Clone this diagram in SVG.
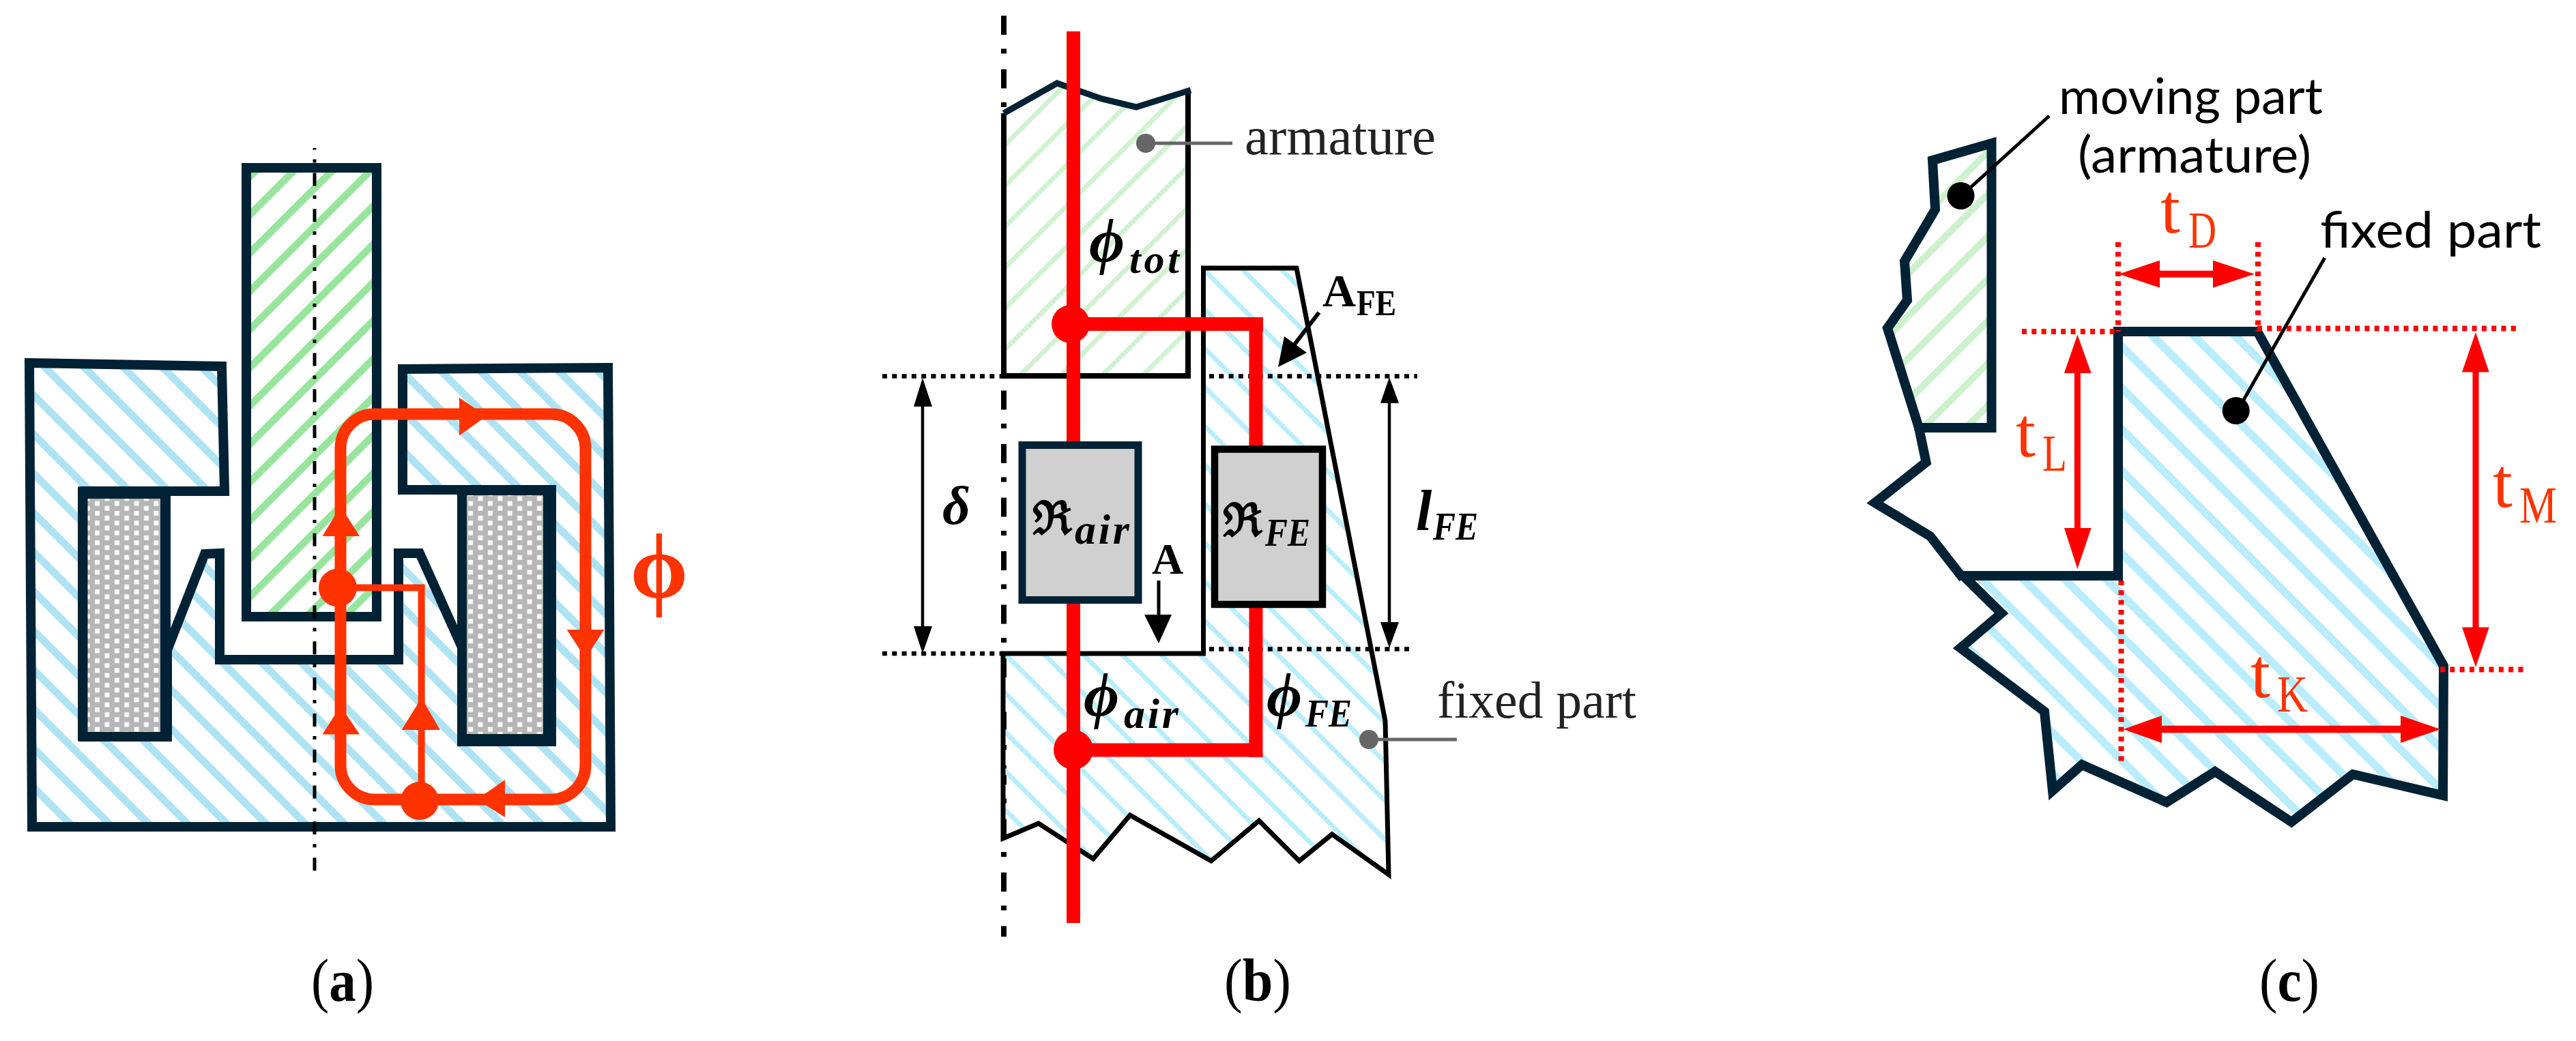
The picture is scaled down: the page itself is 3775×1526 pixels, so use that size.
<svg xmlns="http://www.w3.org/2000/svg" width="3775" height="1526" viewBox="0 0 3775 1526">
<style>
.core{stroke:#012235;stroke-linejoin:miter;fill:none}
.ink{stroke:#000;fill:none}
.fluxA{stroke:#ff3300;fill:none}
.fluxB{stroke:#ff0000;fill:none}
.dotK{stroke:#000;stroke-width:6.5;stroke-dasharray:7 7.3;fill:none}
.dotR{stroke:#ff0000;stroke-width:8;stroke-dasharray:7 7.3;fill:none}
.cap{font-family:"Liberation Serif",serif;font-size:88px;text-anchor:middle;fill:#000}
.cap .b{font-weight:bold}
.m{font-family:"Liberation Serif","DejaVu Serif",serif;font-weight:bold;font-style:italic;fill:#000}
.lab{font-family:"Liberation Serif",serif;fill:#222}
.sans{font-family:Lato,"Liberation Sans",sans-serif;fill:#000}
.t{font-family:"Liberation Serif",serif;fill:#ff3300}
</style>
<defs>
<pattern id="hA" patternUnits="userSpaceOnUse" width="40.66" height="40.66" patternTransform="translate(37.2 0) rotate(-45)"><rect width="11" height="40.66" fill="#aee3f4"/></pattern>
<pattern id="gA" patternUnits="userSpaceOnUse" width="39.6" height="39.6" patternTransform="translate(1.5 0) rotate(45)"><rect width="10.6" height="39.6" fill="#97e59d"/></pattern>
<pattern id="hB" patternUnits="userSpaceOnUse" width="40.3" height="40.3" patternTransform="translate(-4 0) rotate(-45)"><rect width="7" height="40.3" fill="#b8eefc"/></pattern>
<pattern id="gB" patternUnits="userSpaceOnUse" width="42.43" height="42.43" patternTransform="rotate(45)"><rect width="7" height="42.43" fill="#d0f2d0"/></pattern>
<pattern id="hC" patternUnits="userSpaceOnUse" width="42.9" height="42.9" patternTransform="translate(45 0) rotate(-45)"><rect width="11.8" height="42.9" fill="#b9edfd"/></pattern>
<pattern id="gC" patternUnits="userSpaceOnUse" width="43.84" height="43.84" patternTransform="translate(28.6 0) rotate(45)"><rect width="10" height="43.84" fill="#cdf0cd"/></pattern>
<pattern id="coil" patternUnits="userSpaceOnUse" width="28.8" height="14.4" x="139" y="734.500"><rect width="28.8" height="14.4" fill="#b6b6b6"/><rect width="7" height="7" fill="#fafafa"/><rect x="14.4" y="7.2" width="7" height="7" fill="#fafafa"/></pattern>
</defs>
<rect width="3775" height="1526" fill="#fff"/>

<g id="panel-a">
<g id="a-core"><polygon class="core" stroke-width="14" style="fill:url(#hA)" points="43,532 325,537 329,720 122,720 122,1080 245,1080 245,953 300,812 322,811 322,967 584,967 584,811 615,811 677,949 677,1085 805,1085 805,718 590,718 590,541 891,539 895,1212 47,1212"/></g>
<g id="a-armature"><rect class="core" style="fill:url(#gA)" stroke-width="14" x="361" y="246" width="191" height="658"/></g>
<g id="a-coil-left"><rect x="114" y="714" width="136" height="372" fill="#012235"/><rect x="128.500" y="731" width="106.500" height="342" fill="url(#coil)"/></g>
<g id="a-coil-right"><rect x="670" y="711" width="145" height="383" fill="#012235"/><rect x="684" y="726" width="112" height="350" fill="url(#coil)"/></g>
<line id="a-axis" x1="461" y1="217" x2="461" y2="1277" stroke="#000" stroke-width="5" stroke-dasharray="19 14 5 14.83" stroke-dashoffset="16.4"/>
<g id="a-connectors">
<rect class="fluxA" stroke-width="17" x="499" y="607" width="359" height="565" rx="50"/>
<path class="fluxA" stroke-width="10" d="M495,861.500H617.600V1172"/>
<g fill="#ff3300">
<circle cx="495" cy="861.500" r="28"/><circle cx="615" cy="1174" r="28"/>
<polygon points="499,742 472.500,786 527,786"/>
<polygon points="499,1035 472.500,1076.500 527,1076.500"/>
<polygon points="617.600,1023 588.600,1070 645,1070"/>
<polygon points="713,610 673,583 673,638.600"/>
<polygon points="858,965 830.700,923 885.400,923"/>
<polygon points="699,1172 740,1143 740,1198"/>
</g>
</g>
<text id="a-phi" x="966" y="876" font-family="Liberation Serif,DejaVu Serif,serif" font-weight="bold" font-size="136" text-anchor="middle" fill="#ff3300">ϕ</text>
<text class="cap" x="502" y="1467" textLength="92" lengthAdjust="spacingAndGlyphs">(<tspan class="b">a</tspan>)</text>
</g>

<g id="panel-b">
<line id="b-axis" x1="1471" y1="23" x2="1471" y2="1373" stroke="#000" stroke-width="8" stroke-dasharray="28 20.5 7 23"/>
<g id="b-armature">
<polygon points="1471,166 1549,122 1615,145 1665,157 1741,132 1741,551 1471,551" fill="url(#gB)"/>
<path class="ink" stroke-width="8" d="M1471,166V551H1741V132"/>
<polyline class="core" stroke-width="9" points="1471,166 1549,122 1615,145 1665,157 1745,132"/>
</g>
<g id="b-fixed">
<polygon class="ink" stroke-width="7" style="fill:url(#hB)" points="1763.500,393 1900,393 2030,1057 2035,1282 1952,1223 1904,1262 1845,1203 1775,1262 1656,1195 1602,1259 1522,1207 1470,1229 1470,958 1763.500,958"/>
</g>
<g id="b-dims">
<line class="dotK" x1="1293" y1="551.500" x2="1468" y2="551.500"/>
<line class="dotK" x1="1772" y1="551.500" x2="2077" y2="551.500"/>
<line class="dotK" x1="1293" y1="958" x2="1468" y2="958"/>
<line class="dotK" x1="1772" y1="951.500" x2="2067" y2="951.500"/>
<g stroke="#000" stroke-width="4.500"><line x1="1352" y1="590" x2="1352" y2="925"/><line x1="2036" y1="585" x2="2036" y2="918"/></g>
<g fill="#000">
<polygon points="1352,554 1339,596 1366,596"/><polygon points="1352,958 1339,918 1366,918"/>
<polygon points="2036,553 2023,591 2050,591"/><polygon points="2036,950 2023,912 2050,912"/>
<polygon points="1698,943 1677,901 1717,901"/><polygon points="1873,538 1882,493 1915,517"/>
</g>
<line x1="1698" y1="851" x2="1698" y2="905" stroke="#000" stroke-width="5"/>
<line x1="1933" y1="458" x2="1893" y2="510" stroke="#000" stroke-width="6"/>
</g>
<g id="b-connectors">
<path class="fluxB" stroke-width="20" d="M1573,46V1353"/>
<path class="fluxB" stroke-width="20" d="M1573,475H1851M1840.500,465V660"/>
<path class="fluxB" stroke-width="20" d="M1573,1099.500H1850M1840.500,880V1110"/>
<circle cx="1569" cy="475" r="28" fill="#ff0000"/><circle cx="1573" cy="1099" r="29" fill="#ff0000"/>
</g>
<g id="b-r-air"><rect x="1498" y="652.500" width="170" height="227" fill="#d0d0d0" stroke="#012235" stroke-width="11"/>
<text class="m" x="1513" y="783" font-size="68" style="font-style:normal">ℜ</text><text class="m" x="1575" y="797" font-size="62" textLength="80" lengthAdjust="spacing">air</text></g>
<g id="b-r-fe"><rect x="1780" y="658.500" width="158" height="227.500" fill="#d0d0d0" stroke="#000" stroke-width="10.500"/>
<text class="m" x="1792" y="786" font-size="68" style="font-style:normal">ℜ</text><text class="m" x="1854" y="799.500" font-size="56" textLength="66" lengthAdjust="spacingAndGlyphs">FE</text></g>
<g id="b-armature-label"><circle cx="1679" cy="210" r="14" fill="#666"/><line x1="1690" y1="210" x2="1806" y2="210" stroke="#666" stroke-width="5"/><text class="lab" x="1824" y="225.500" font-size="78" textLength="280" lengthAdjust="spacingAndGlyphs">armature</text></g>
<g id="b-fixed-label"><circle cx="2006" cy="1084" r="14" fill="#666"/><line x1="2016" y1="1084" x2="2135" y2="1084" stroke="#666" stroke-width="5"/><text class="lab" x="2106" y="1052" font-size="76" textLength="292" lengthAdjust="spacingAndGlyphs">fixed part</text></g>
<text class="m" x="1596" y="384" font-size="90">ϕ</text><text class="m" x="1655" y="400" font-size="60" textLength="73" lengthAdjust="spacing">tot</text>
<text class="m" x="1588" y="1050" font-size="90">ϕ</text><text class="m" x="1647" y="1067" font-size="62" textLength="80" lengthAdjust="spacing">air</text>
<text class="m" x="1856" y="1050" font-size="90">ϕ</text><text class="m" x="1913" y="1065" font-size="56" textLength="68" lengthAdjust="spacingAndGlyphs">FE</text>
<text class="m" x="1381" y="768" font-size="80">δ</text>
<text class="m" x="2075" y="777" font-size="84">l</text><text class="m" x="2100" y="790.500" font-size="56" textLength="66" lengthAdjust="spacingAndGlyphs">FE</text>
<text x="1688" y="841" font-family="Liberation Serif,serif" font-weight="bold" font-size="64" fill="#000">A</text>
<text x="1938" y="449" font-family="Liberation Serif,serif" font-weight="bold" font-size="68" fill="#000">A</text>
<text x="1988" y="462" font-family="Liberation Serif,serif" font-weight="bold" font-size="52" textLength="58" lengthAdjust="spacingAndGlyphs" fill="#000">FE</text>
<text class="cap" x="1843" y="1467" textLength="98" lengthAdjust="spacingAndGlyphs">(<tspan class="b">b</tspan>)</text>
</g>

<g id="panel-c">
<g id="c-moving"><polygon class="core" stroke-width="14" style="fill:url(#gC)" points="2832,235 2918.500,210 2918.500,627 2812,627 2766,481 2795,440 2791,383 2836,307"/></g>
<g id="c-fixed">
<polygon points="2877,844 3104,844 3104,486 3308,486 3581,976 3580,1166 3448,1135 3358,1205 3246,1131 3175,1176 3051,1121 3008,1159 2996,1043 2873,950 2933,899" fill="url(#hC)"/>
<polygon class="core" stroke-width="14" points="2877,844 3104,844 3104,486 3308,486 3581,976 3580,1166 3448,1135 3358,1205 3246,1131 3175,1176 3051,1121 3008,1159 2996,1043 2873,950 2933,899"/>
<polyline class="core" stroke-width="14" points="2812,627 2822.600,677.600 2747.600,737 2828.600,786 2877,848"/>
</g>
<g id="c-connectors">
<line class="dotR" x1="3104" y1="355" x2="3104" y2="486"/>
<line class="dotR" x1="3309" y1="355" x2="3309" y2="486"/>
<line class="dotR" x1="2963" y1="486" x2="3102" y2="486"/>
<line class="dotR" x1="3308" y1="481.500" x2="3687" y2="481.500"/>
<line class="dotR" x1="3576" y1="981.500" x2="3702" y2="981.500"/>
<line class="dotR" x1="3108.500" y1="851" x2="3108.500" y2="1118"/>
<g stroke="#ff0000"><line x1="3150" y1="401.700" x2="3260" y2="401.700" stroke-width="10"/><line x1="3044.400" y1="530" x2="3044.400" y2="790" stroke-width="9"/><line x1="3628" y1="530" x2="3628" y2="930" stroke-width="9"/><line x1="3150" y1="1069" x2="3530" y2="1069" stroke-width="10.500"/></g>
<g fill="#ff0000">
<polygon points="3105,401.700 3165,381.700 3165,421.700"/><polygon points="3304,401.700 3243,381.700 3243,421.700"/>
<polygon points="3044.400,490.500 3025,547 3064.600,547"/><polygon points="3044.400,834 3025,774 3064.600,774"/>
<polygon points="3628,487 3608,545.500 3647.700,545.500"/><polygon points="3628,978 3608,919.500 3647.700,919.500"/>
<polygon points="3111.700,1069 3168,1049 3168,1089"/><polygon points="3576.500,1069 3518,1049 3518,1089"/>
</g>
</g>
<text class="t" x="3166" y="341" font-size="104">t</text><text class="t" x="3207" y="362.700" font-size="77" textLength="41" lengthAdjust="spacingAndGlyphs">D</text>
<text class="t" x="2954" y="669" font-size="104">t</text><text class="t" x="2993" y="690" font-size="77" textLength="36" lengthAdjust="spacingAndGlyphs">L</text>
<text class="t" x="3653" y="743" font-size="104">t</text><text class="t" x="3692" y="766" font-size="77" textLength="55" lengthAdjust="spacingAndGlyphs">M</text>
<text class="t" x="3298" y="1022" font-size="104">t</text><text class="t" x="3337" y="1043" font-size="77" textLength="45" lengthAdjust="spacingAndGlyphs">K</text>
<g id="c-moving-label"><line x1="3003" y1="170" x2="2882" y2="280" stroke="#000" stroke-width="5"/><circle cx="2873.500" cy="287" r="20" fill="#000"/>
<text class="sans" x="3017" y="167" font-size="74" textLength="387" lengthAdjust="spacingAndGlyphs">moving part</text>
<text class="sans" x="3045" y="253" font-size="74" textLength="342" lengthAdjust="spacingAndGlyphs">(armature)</text></g>
<g id="c-fixed-label"><line x1="3406.700" y1="378" x2="3280" y2="600" stroke="#000" stroke-width="5"/><circle cx="3276.700" cy="602" r="20" fill="#000"/>
<text class="sans" x="3400" y="363" font-size="74" textLength="324" lengthAdjust="spacingAndGlyphs">fixed part</text></g>
<text class="cap" x="3355" y="1467" textLength="88" lengthAdjust="spacingAndGlyphs">(<tspan class="b">c</tspan>)</text>
</g>
</svg>
